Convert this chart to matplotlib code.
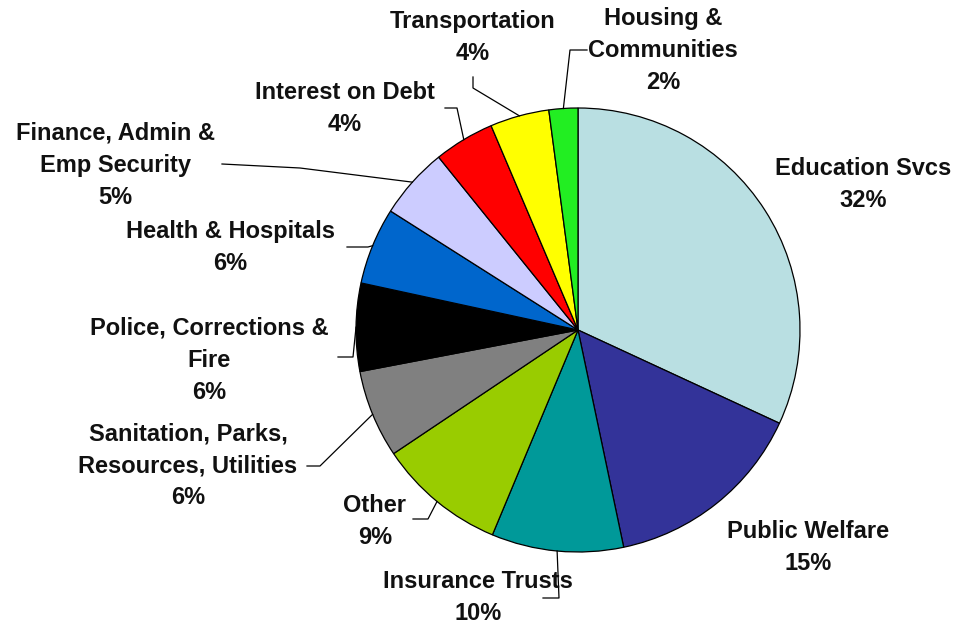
import numpy as np
import matplotlib
matplotlib.use("Agg")
import matplotlib.pyplot as plt

# spending shares, clockwise from 12 o'clock
categories = ["Education Svcs", "Public Welfare", "Insurance Trusts", "Other",
              "Sanitation, Parks,\nResources, Utilities", "Police, Corrections &\nFire",
              "Health & Hospitals", "Finance, Admin &\nEmp Security", "Interest on Debt",
              "Transportation", "Housing &\nCommunities"]
shares = [31.9, 14.8, 9.6, 9.3, 6.4, 6.4, 5.6, 5.2, 4.4, 4.3, 2.1]
colors = ["#B9DFE2", "#333399", "#009999", "#99CC00", "#808080", "#000000",
          "#0066CC", "#CCCCFF", "#FF0000", "#FFFF00", "#22EE22"]

# pie geometry in pixels (center, radius) for a 961x628 canvas
W, H = 961, 628
cx, cy, R = 578, 330, 222


def px(x, y):
    return (x - cx) / R, (cy - y) / R


# label block centers and leader knee points (pixels); None = no leader
label_pos = [(863, 184), (808, 548), (478, 597), (375, 521), (188, 466), (209, 360),
             (230, 247), (115, 165), (345, 108), (473, 37), (663, 50)]
knees = [None, None, [(543, 598), (559, 598)], [(413, 519), (428, 519)],
         [(307, 466), (320, 466)], [(338, 357), (353, 357)], [(347, 247), (368, 247)],
         [(222, 164), (300, 168)], [(445, 108), (457, 108)], [(473, 77), (473, 88)],
         [(587, 50), (570, 50)]]

fig = plt.figure(figsize=(W / 100, H / 100), dpi=100)
ax = fig.add_axes([0, 0, 1, 1])

wedges, _ = ax.pie(shares, colors=colors, startangle=90, counterclock=False, radius=1.0,
                   wedgeprops=dict(edgecolor="black", linewidth=0.9))

ax.set_xlim(px(0, 0)[0], px(W, 0)[0])
ax.set_ylim(px(0, H)[1], px(0, 0)[1])
ax.set_aspect("equal")
ax.axis("off")

total = sum(shares)
for w, name, val, pos, knee in zip(wedges, categories, shares, label_pos, knees):
    txt = name + "\n" + "%d%%" % round(val / total * 100)
    ax.text(*px(*pos), txt, ha="center", va="center", fontsize=17, fontweight="bold",
            family="Liberation Sans", linespacing=1.5, color="#111111")
    if knee is None:
        continue
    mid = np.deg2rad((w.theta1 + w.theta2) / 2)
    edge = (np.cos(mid), np.sin(mid))
    pts = [px(*k) for k in knee] + [edge]
    ax.plot([p[0] for p in pts], [p[1] for p in pts], color="black", lw=0.9)

fig.savefig("out.png", dpi=100, facecolor="white")
